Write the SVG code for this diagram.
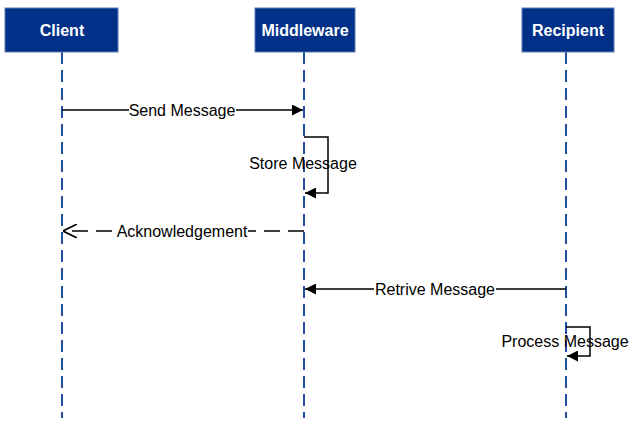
<svg xmlns="http://www.w3.org/2000/svg" width="637" height="434" viewBox="0 0 637 434">
<style>
.box{fill:#003087;stroke:#5b7bb6;stroke-width:1}
.hd{font-family:"Liberation Sans",Arial,sans-serif;font-size:16px;font-weight:bold;fill:#fff;text-anchor:middle}
.life{stroke:#1f4fa0;stroke-width:2;stroke-dasharray:12,6}
.msg{stroke:#000;stroke-width:1.5;fill:none}
.lb{font-family:"Liberation Sans",Arial,sans-serif;font-size:16px;fill:#000;text-anchor:middle}
</style>
<defs>
<marker id="ar" viewBox="0 0 10 10" refX="10" refY="5" markerWidth="11" markerHeight="11" markerUnits="userSpaceOnUse" orient="auto"><path d="M0,0L10,5L0,10z" fill="#000"/></marker>
<marker id="op" viewBox="0 0 10 10" refX="10" refY="5" markerWidth="14" markerHeight="14" markerUnits="userSpaceOnUse" orient="auto"><path d="M0,0L10,5L0,10" fill="none" stroke="#000" stroke-width="1.2"/></marker>
</defs>
<g id="lifelines">
<line class="life" x1="62" y1="52" x2="62" y2="418"/>
<line class="life" x1="304" y1="52" x2="304" y2="418"/>
<line class="life" x1="566" y1="52" x2="566" y2="418"/>
</g>
<g id="client"><rect class="box" x="5" y="8" width="113" height="44"/><text class="hd" x="62" y="30" dy="5.5">Client</text></g>
<g id="middleware"><rect class="box" x="255" y="8" width="100" height="44"/><text class="hd" x="305" y="30" dy="5.5">Middleware</text></g>
<g id="recipient"><rect class="box" x="522" y="8" width="92" height="44"/><text class="hd" x="568" y="30" dy="5.5">Recipient</text></g>
<g id="connectors">
<line class="msg" x1="62" y1="110" x2="303" y2="110" marker-end="url(#ar)"/>
<rect x="129" y="101" width="107" height="18" fill="#fff"/>
<text class="lb" x="182" y="115.5">Send Message</text>
<path class="msg" d="M304,137H328V193H305" marker-end="url(#ar)"/>
<text class="lb" x="303" y="169">Store Message</text>
<line class="msg" x1="304" y1="231" x2="63" y2="231" stroke-dasharray="16,8" marker-end="url(#op)"/>
<rect x="116" y="222" width="132" height="18" fill="#fff"/>
<text class="lb" x="182" y="236.5">Acknowledgement</text>
<line class="msg" x1="566" y1="289" x2="305" y2="289" marker-end="url(#ar)"/>
<rect x="374" y="280" width="122" height="18" fill="#fff"/>
<text class="lb" x="435" y="294.5">Retrive Message</text>
<path class="msg" d="M566,327H590V356H567" marker-end="url(#ar)"/>
<text class="lb" x="565" y="347">Process Message</text>
</g>
</svg>
